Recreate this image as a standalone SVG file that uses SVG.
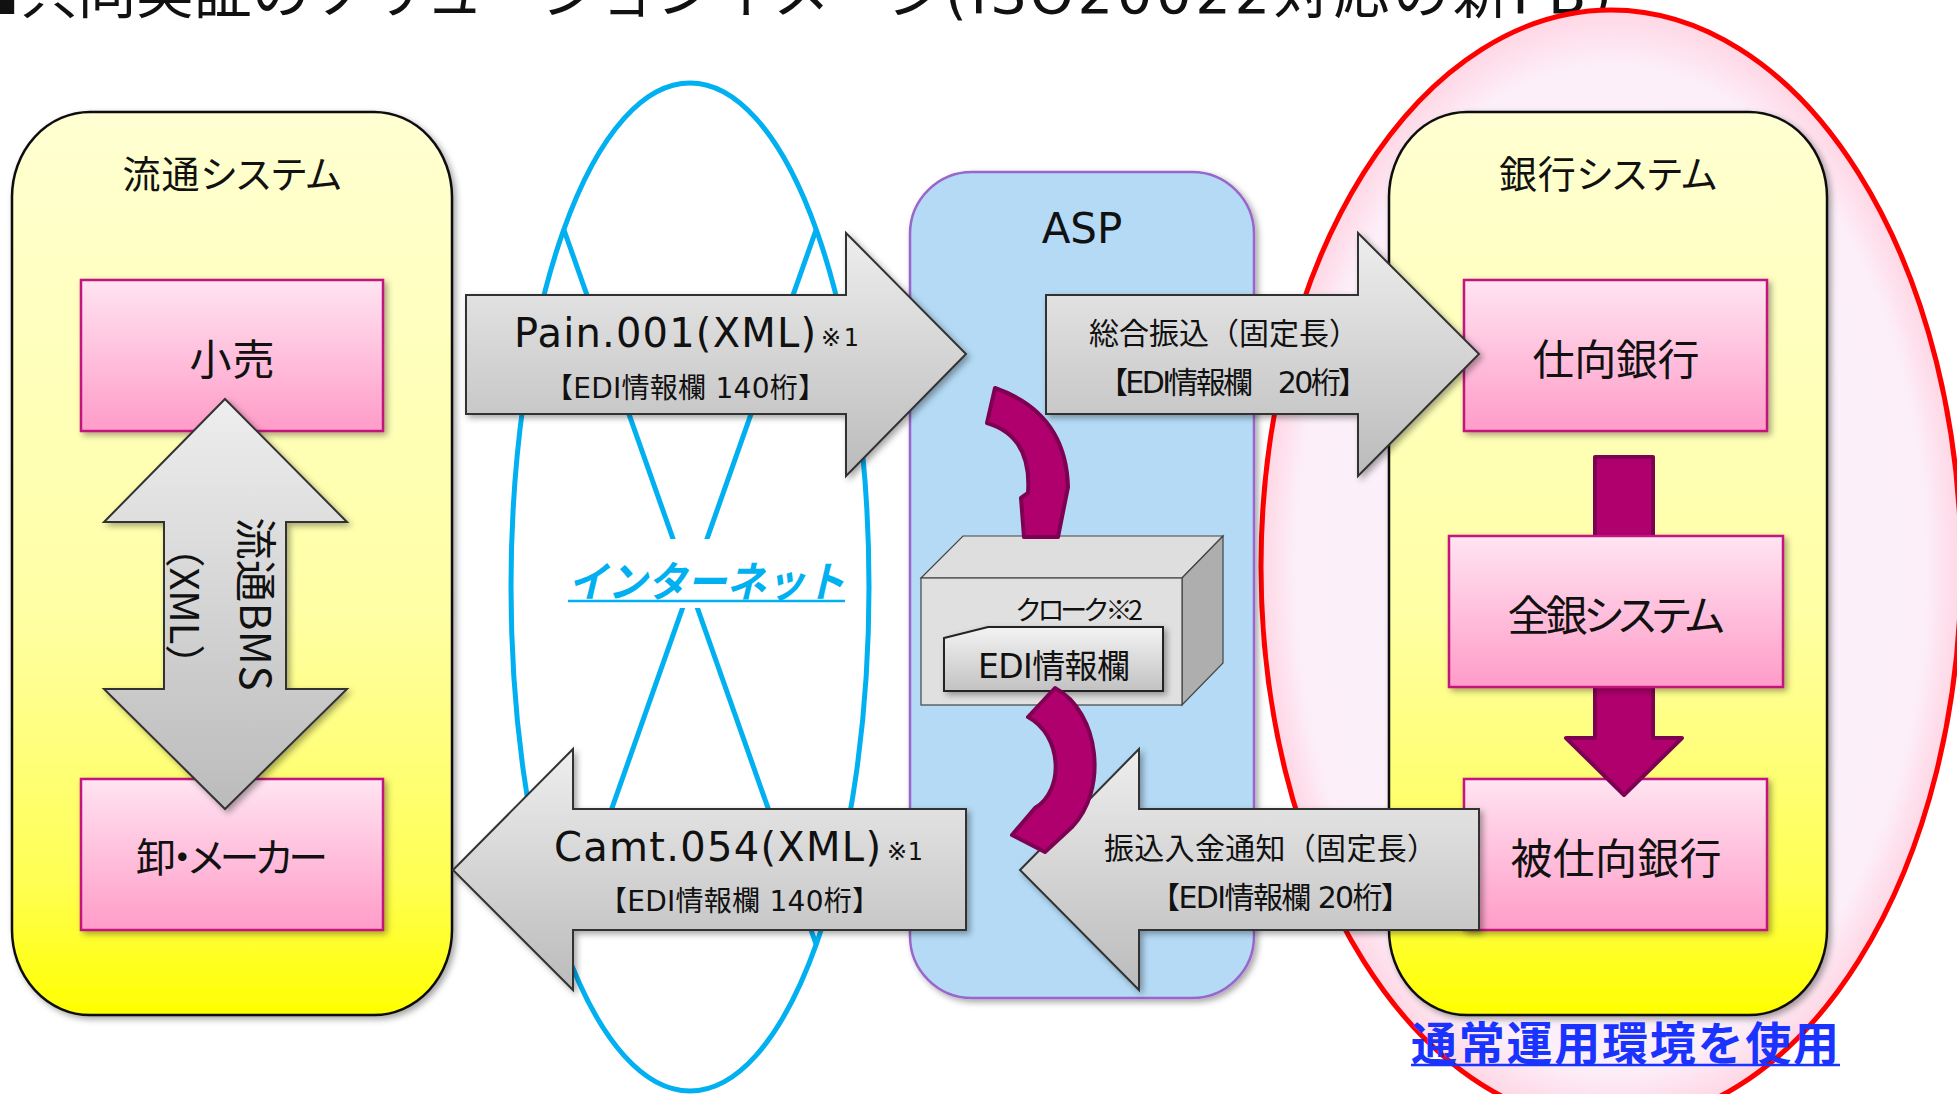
<svg xmlns="http://www.w3.org/2000/svg" width="1957" height="1094" viewBox="0 0 1957 1094">
<style>
.jp{font-family:"Noto Sans CJK JP","Noto Sans",sans-serif;fill:#111}
.lat{font-family:"DejaVu Sans","Noto Sans CJK JP",sans-serif;fill:#111}
.pa{font-feature-settings:"palt" 1}
.c{text-anchor:middle;dominant-baseline:central}
.s{text-anchor:start;dominant-baseline:central}
.ybox{fill:url(#yg);stroke:#111;stroke-width:2.5}
.pbox{fill:url(#pg);stroke:#C0177E;stroke-width:2.5}
.garrow{fill:url(#gg);stroke:#333;stroke-width:2}
.parrow{fill:#B0006E;stroke:#7E0052;stroke-width:4;stroke-linejoin:round}
.net{fill:none;stroke:#00B0F0;stroke-width:5}
</style>
<defs>
<linearGradient id="yg" x1="0" y1="0" x2="0" y2="1">
<stop offset="0" stop-color="#FFFFD2"/><stop offset="0.55" stop-color="#FFFFA6"/><stop offset="0.85" stop-color="#FFFF55"/><stop offset="1" stop-color="#FFFF00"/>
</linearGradient>
<linearGradient id="pg" x1="0" y1="0" x2="0" y2="1">
<stop offset="0" stop-color="#FFE4F1"/><stop offset="1" stop-color="#FF9CC8"/>
</linearGradient>
<linearGradient id="gg" x1="0" y1="0" x2="0" y2="1">
<stop offset="0" stop-color="#EEEEEE"/><stop offset="1" stop-color="#BBBBBB"/>
</linearGradient>
<linearGradient id="eg" x1="0" y1="0" x2="0" y2="1">
<stop offset="0" stop-color="#F3F3F3"/><stop offset="1" stop-color="#C2C2C2"/>
</linearGradient>
<radialGradient id="rg" cx="0.5" cy="0.5" r="0.5">
<stop offset="0" stop-color="#FBF3FB"/><stop offset="0.9" stop-color="#FCEFF9"/><stop offset="1" stop-color="#FFD6E4"/>
</radialGradient>
<filter id="sh" x="-10%" y="-10%" width="130%" height="130%">
<feDropShadow dx="3" dy="3" stdDeviation="3" flood-color="#000" flood-opacity="0.35"/>
</filter>
</defs>

<g id="title">
<text class="jp" x="-38" y="13" font-size="58" textLength="983" lengthAdjust="spacing">■共同実証のソリューションイメージ</text>
<text class="lat" x="945" y="13" font-size="56" textLength="667" lengthAdjust="spacing">(ISO20022対応の新FB)</text>
</g>

<g id="bank-area">
<ellipse cx="1611" cy="567" rx="350" ry="557" fill="url(#rg)" stroke="#FF0000" stroke-width="5"/>
</g>

<g id="ryutsu-system">
<rect class="ybox" x="12" y="112" width="440" height="903" rx="78" ry="85" filter="url(#sh)"/>
<text class="jp pa c" x="232" y="171" font-size="38" textLength="219">流通システム</text>
</g>

<g id="ginko-system">
<rect class="ybox" x="1389" y="112" width="438" height="903" rx="78" ry="85" filter="url(#sh)"/>
<text class="jp pa c" x="1608" y="171" font-size="38" textLength="218">銀行システム</text>
</g>

<g id="kouri">
<rect class="pbox" x="81" y="280" width="302" height="151" filter="url(#sh)"/>
<text class="jp c" x="232" y="356" font-size="42" textLength="85">小売</text>
</g>

<g id="oroshi">
<rect class="pbox" x="81" y="779" width="302" height="151" filter="url(#sh)"/>
<text class="jp pa c" x="232" y="855" font-size="40" textLength="192">卸・メーカー</text>
</g>

<g id="internet">
<ellipse class="net" cx="690" cy="587" rx="179" ry="504"/>
<line class="net" x1="564" y1="230" x2="816" y2="944"/>
<line class="net" x1="816" y1="230" x2="564" y2="944"/>
<rect x="575" y="539" width="265" height="69" fill="#FFFFFF"/>
<text x="568" y="578" class="s" font-family="'Noto Sans CJK JP',sans-serif" font-size="42" font-weight="bold" font-style="italic" fill="#00B0F0" textLength="277" lengthAdjust="spacingAndGlyphs">インターネット</text>
<line x1="568" y1="601" x2="845" y2="601" stroke="#00B0F0" stroke-width="2.5"/>
</g>

<g id="asp">
<rect x="910" y="172" width="344" height="826" rx="62" ry="62" fill="#B4DAF5" stroke="#9966CC" stroke-width="2.5" filter="url(#sh)"/>
<text class="lat c" x="1082" y="228" font-size="42">ASP</text>
</g>

<g id="cloak">
<polygon points="921,578 963,536 1223,536 1182,578" fill="#DEDEDE" stroke="#444" stroke-width="1.2"/>
<polygon points="1182,578 1223,536 1223,663 1182,705" fill="#AEAEAE" stroke="#444" stroke-width="1.2"/>
<rect x="921" y="578" width="261" height="127" fill="#E0E0E0" stroke="#444" stroke-width="1.2"/>
<text class="jp s" x="1015" y="608" font-size="27" textLength="128">クローク※2</text>
<polygon points="944,638 988,627 1163,627 1163,691 944,691" fill="url(#eg)" stroke="#222" stroke-width="2" filter="url(#sh)"/>
<text class="lat s" x="978" y="666" font-size="33" textLength="152">EDI情報欄</text>
</g>

<g id="shimuke">
<rect class="pbox" x="1464" y="280" width="303" height="151" filter="url(#sh)"/>
<text class="jp c" x="1616" y="356" font-size="42" textLength="167">仕向銀行</text>
</g>

<g id="hishimuke">
<rect class="pbox" x="1464" y="779" width="303" height="151" filter="url(#sh)"/>
<text class="jp c" x="1616" y="855" font-size="42" textLength="211">被仕向銀行</text>
</g>

<g id="connectors">
<g filter="url(#sh)">
<path class="garrow" d="M466,295 L846,295 L846,233 L966,354 L846,476 L846,414 L466,414 Z"/>
</g>
<text class="lat s" x="514" y="333" font-size="40" textLength="302">Pain.001(XML)</text>
<text class="lat s" x="821" y="338" font-size="24" textLength="38">※1</text>
<text class="lat s" x="545" y="388" font-size="28" textLength="281">【EDI情報欄 140桁】</text>

<g filter="url(#sh)">
<path class="garrow" d="M966,809 L573,809 L573,749 L453,870 L573,990 L573,930 L966,930 Z"/>
</g>
<text class="lat s" x="554" y="847" font-size="40" textLength="327">Camt.054(XML)</text>
<text class="lat s" x="887" y="852" font-size="24" textLength="36">※1</text>
<text class="lat s" x="599" y="901" font-size="28" textLength="281">【EDI情報欄 140桁】</text>

<g filter="url(#sh)">
<path class="garrow" d="M1046,295 L1358,295 L1358,233 L1479,354 L1358,476 L1358,414 L1046,414 Z"/>
</g>
<text class="jp s" x="1089" y="331" font-size="30" textLength="270">総合振込（固定長）</text>
<text class="lat s" x="1098" y="382" font-size="30" textLength="270">【EDI情報欄　20桁】</text>

<g filter="url(#sh)">
<path class="garrow" d="M1479,809 L1139,809 L1139,749 L1020,870 L1139,990 L1139,930 L1479,930 Z"/>
</g>
<text class="jp s" x="1104" y="846" font-size="30" textLength="333">振込入金通知（固定長）</text>
<text class="lat s" x="1150" y="897" font-size="30" textLength="261">【EDI情報欄 20桁】</text>

<g filter="url(#sh)">
<path class="garrow" d="M225,399 L347,522 L286,522 L286,689 L347,689 L225,809 L104,689 L164,689 L164,522 L104,522 Z"/>
</g>
<text class="jp c" transform="translate(258,604) rotate(90)" font-size="42" textLength="173">流通BMS</text>
<text class="jp c" transform="translate(187,606) rotate(90)" font-size="40">（XML）</text>

<path class="parrow" d="M995,388 Q1066,413 1068,487 L1058,537 L1024,537 L1021,498 L1028,493 Q1032,436 987,423 Z"/>
<path class="parrow" d="M1055,688 C1100,712 1108,790 1072,827 L1045,852 L1012,835 L1035,808 C1065,790 1062,735 1028,717 Z"/>
<path class="parrow" d="M1595,457 L1653,457 L1653,738 L1682,738 L1624,795 L1566,738 L1595,738 Z"/>
</g>

<g id="zengin-system">
<rect class="pbox" x="1449" y="536" width="334" height="151" filter="url(#sh)"/>
<text class="jp pa c" x="1616" y="612" font-size="42" textLength="217">全銀システム</text>
</g>

<g id="note">
<text x="1411" y="1040" class="s" font-family="'Noto Sans CJK JP',sans-serif" font-size="46" font-weight="bold" fill="#1A33FF" textLength="428">通常運用環境を使用</text>
<line x1="1411" y1="1065" x2="1840" y2="1065" stroke="#1A33FF" stroke-width="2.5"/>
</g>
</svg>
